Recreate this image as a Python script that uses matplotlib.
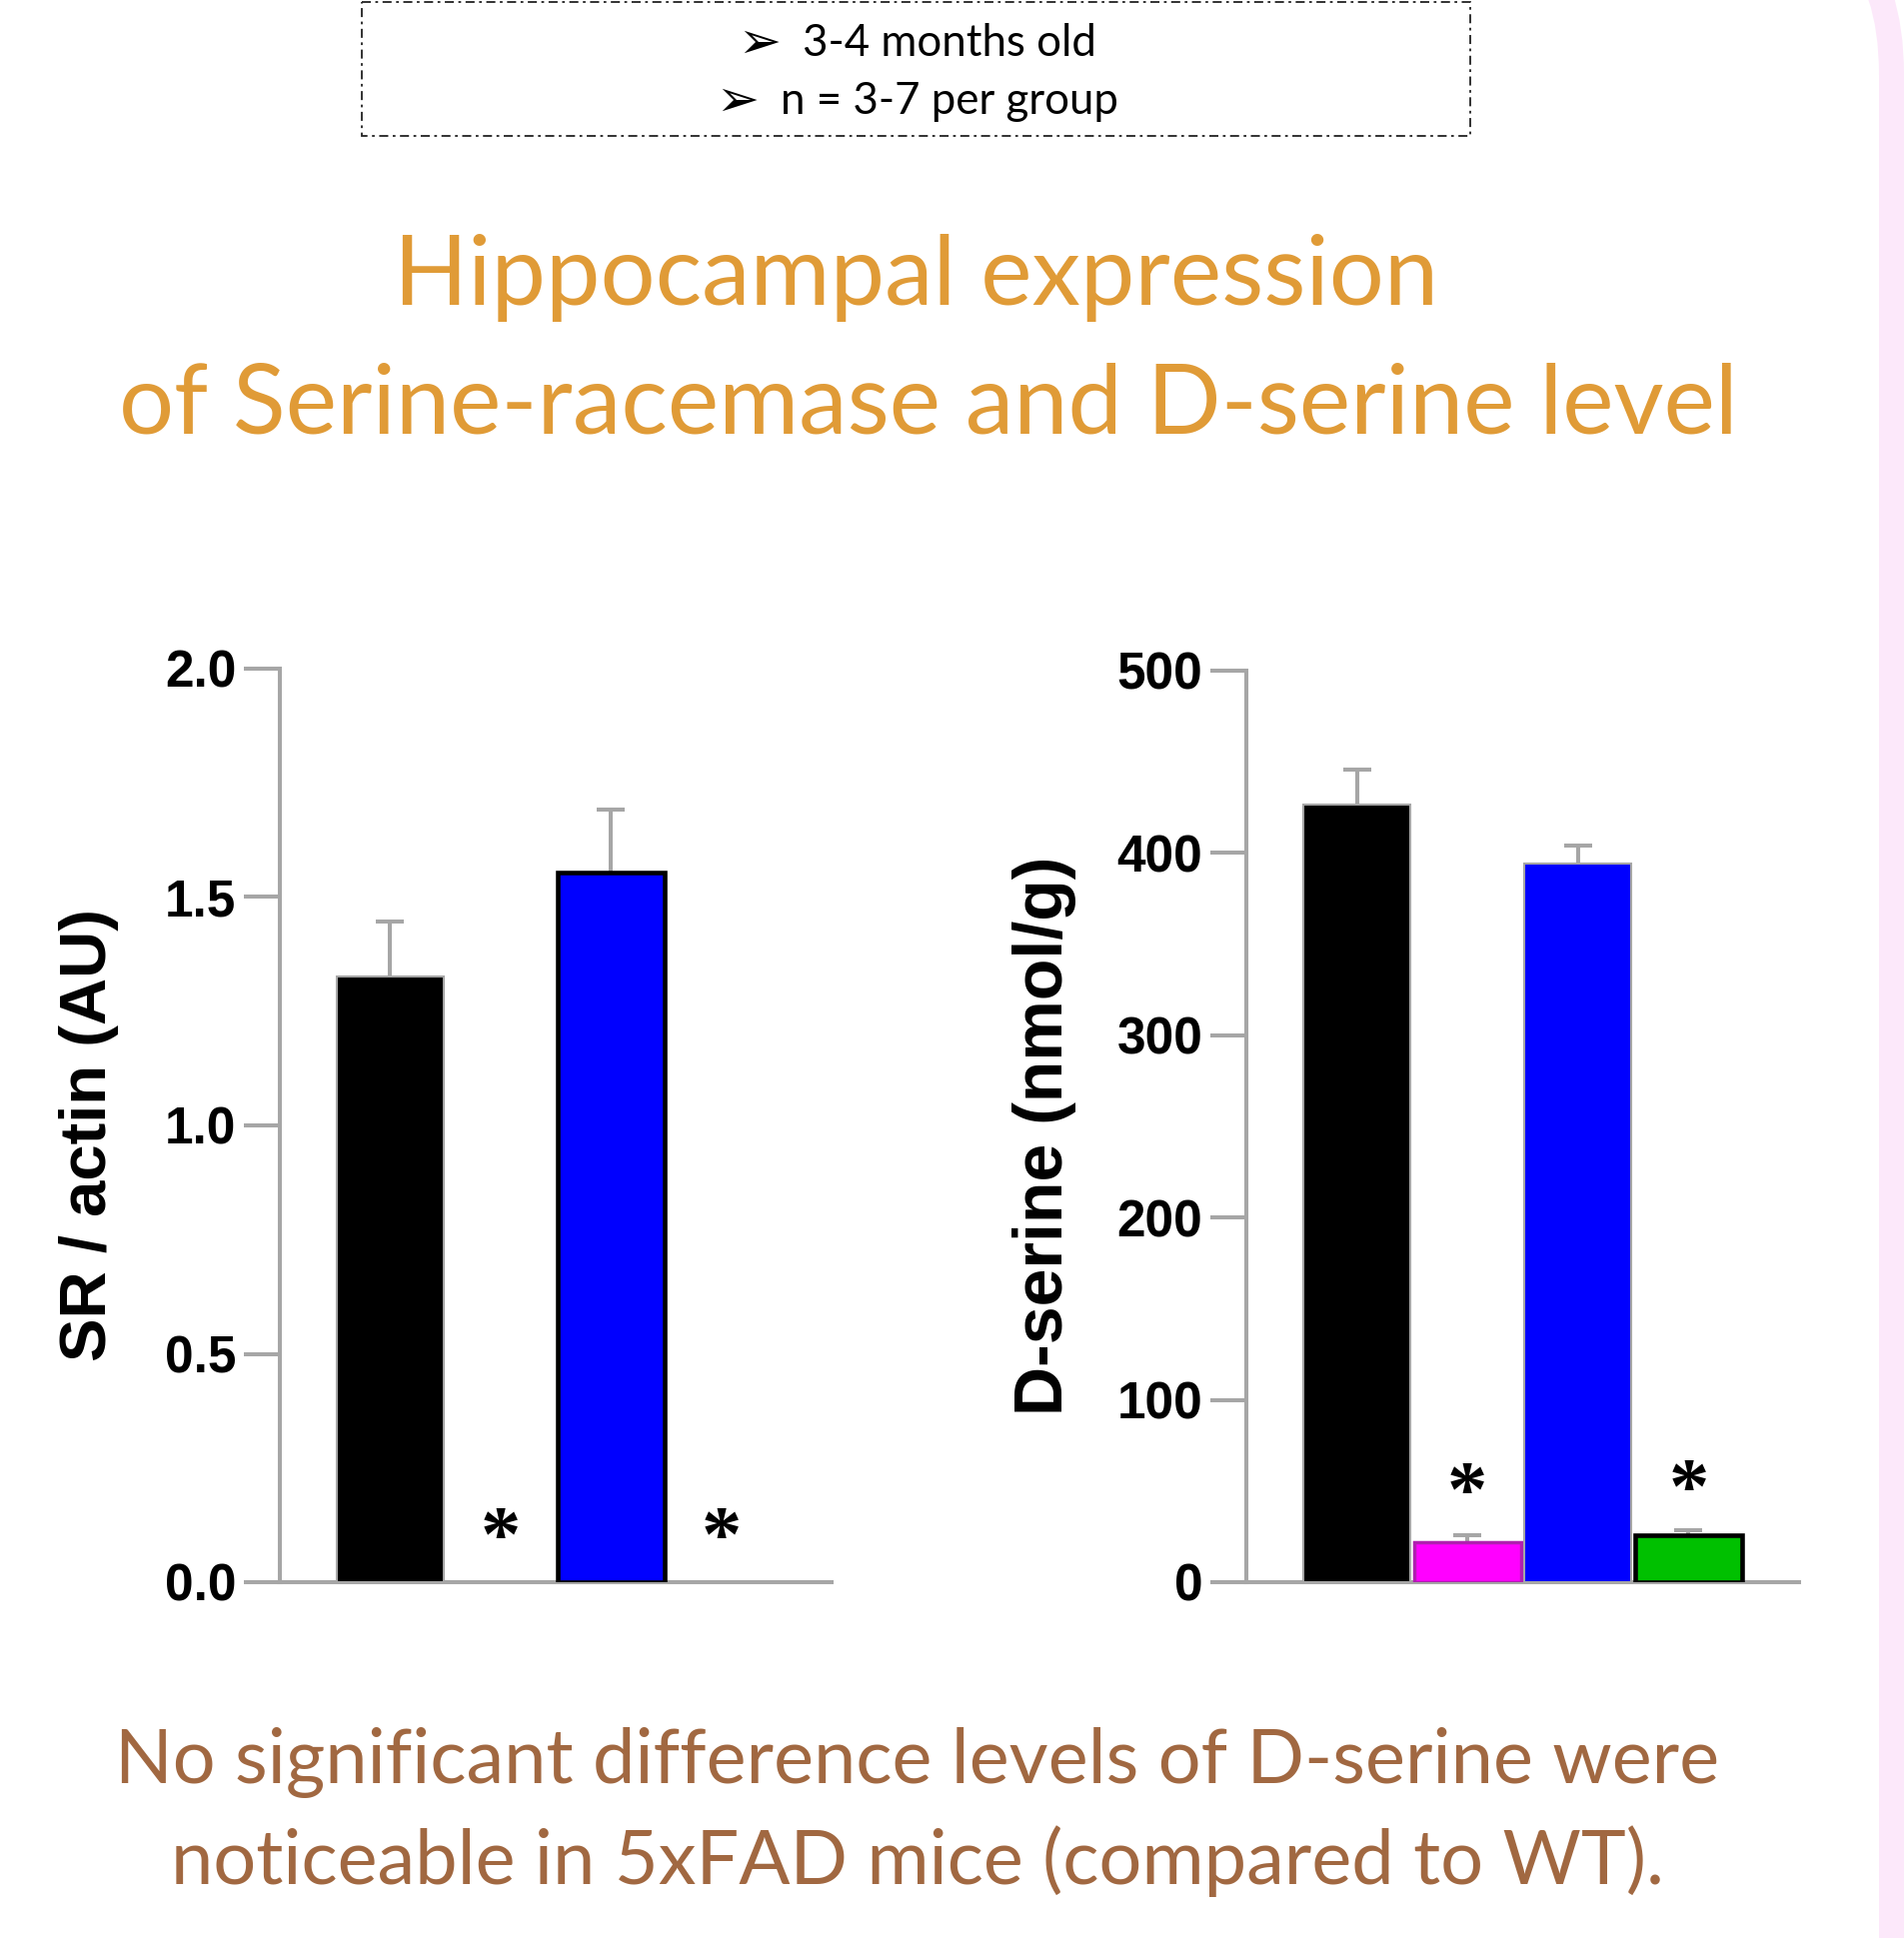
import matplotlib
matplotlib.use('Agg')
import matplotlib.pyplot as plt
from matplotlib.patches import Rectangle, PathPatch
from matplotlib.path import Path
from matplotlib.transforms import ScaledTranslation

# data
groups = ['WT', 'WT treated', '5xFAD', '5xFAD treated']
sr_vals = [1.325, 0.0, 1.553, 0.0]
sr_err = [0.122, 0.0, 0.138, 0.0]
sr_star_y = [0.133, 0.133]
dser_vals = [426.5, 22.0, 394.0, 25.5]
dser_err = [19.0, 3.5, 10.0, 3.0]
dser_star_y = [58, 60]

bar_colors = ['#000000', '#FF00FF', '#0000FF', '#00C000']
grey = '#A6A6A6'

title_lines = ['Hippocampal expression', 'of Serine-racemase and D-serine level']
note_lines = ['No significant difference levels of D-serine were',
              'noticeable in 5xFAD mice (compared to WT).']
box_lines = ['3-4 months old', 'n = 3-7 per group']

W, H = 1905, 1939
fig = plt.figure(figsize=(W / 100, H / 100), dpi=100)

# overlay in pixel coordinates for the slide decorations
bg = fig.add_axes([0, 0, 1, 1])
bg.set_xlim(0, W)
bg.set_ylim(H, 0)
bg.axis('off')

# pink border at the right with rounded corner
R = 180
cy = 74
verts = [(1892.5 - R, cy - R), (1892.5, cy - R), (1892.5, cy), (1892.5, H + 20)]
codes = [Path.MOVETO, Path.CURVE3, Path.CURVE3, Path.LINETO]
bg.add_patch(PathPatch(Path(verts, codes), fill=False, edgecolor='#FCE8FA', lw=18))

bg.add_patch(Rectangle((362, 2), 1109, 134, fill=False, edgecolor='#222222',
                       lw=1.3, linestyle=(0, (5, 2.5, 1.5, 2.5))))
for (ax_x, tx_x, base), line in zip([(760, 803, 56), (738, 781, 114)], box_lines):
    bg.text(ax_x, base + 2, '\u27a2', ha='center', va='baseline', fontsize=37,
            family='DejaVu Sans')
    bg.text(tx_x, base, line, ha='left', va='baseline', fontsize=31.5, family='Lato')

for (x, y), line in zip([(917, 305), (929, 433)], title_lines):
    bg.text(x, y, line, ha='center', va='baseline', fontsize=70,
            family='Lato', color='#E09B37')
for y, line in zip([1784, 1885], note_lines):
    bg.text(918, y, line, ha='center', va='baseline', fontsize=54.5,
            family='Lato', color='#A16841')


def style_axis(ax, ylim, ticks, fmt, ylabel, label_x, label_size):
    ax.set_xlim(-1, 4)
    ax.set_ylim(*ylim)
    for s in ['top', 'right']:
        ax.spines[s].set_visible(False)
    for s in ['left', 'bottom']:
        ax.spines[s].set_color(grey)
        ax.spines[s].set_linewidth(2.9)
    ax.set_xticks([])
    ax.set_yticks(ticks)
    ax.set_yticklabels([fmt.format(t) for t in ticks], family='Liberation Sans',
                       fontweight='bold', fontsize=37)
    ax.tick_params(axis='y', length=26, width=2.9, color=grey, pad=5.5)
    ax.set_ylabel(ylabel, family='Liberation Sans', fontweight='bold',
                  fontsize=label_size, va='center')
    ax.yaxis.set_label_coords(label_x, 0.49)
    ax.patch.set_alpha(0)


def draw_bars(ax, vals, errs, edges, widths):
    for i in range(len(groups)):
        if vals[i] <= 0:
            continue
        ax.bar(i, vals[i], width=0.97, color=bar_colors[i], edgecolor=edges[i],
               linewidth=widths[i], zorder=3)
        if errs[i] > 0:
            ax.errorbar(i, vals[i], yerr=[[0], [errs[i]]], fmt='none', ecolor=grey,
                        elinewidth=2.9, capsize=0, zorder=2)
            ax.plot(i, vals[i] + errs[i], marker='_', markersize=19.5, mew=2.9,
                    color=grey, ls='none', zorder=2)


def draw_stars(ax, ys):
    fs = 58
    # shift so the glyph centre sits on y
    tr = ax.transData + ScaledTranslation(0, -0.5 * fs / 72, fig.dpi_scale_trans)
    for i, y in zip([1, 3], ys):
        ax.text(i, y, '*', ha='center', va='baseline', fontsize=fs,
                family='Liberation Serif', fontweight='bold', transform=tr)


ax1 = fig.add_axes([280 / W, 1 - 1583 / H, 552 / W, 914 / H])
style_axis(ax1, (0, 2.0), [0, 0.5, 1.0, 1.5, 2.0], '{:.1f}', 'SR / actin (AU)', -0.346, 47)
draw_bars(ax1, sr_vals, sr_err, [grey, grey, '#000000', '#000000'], [1.5, 1.5, 3.3, 3.3])
draw_stars(ax1, sr_star_y)

ax2 = fig.add_axes([1247 / W, 1 - 1583 / H, 553 / W, 912 / H])
style_axis(ax2, (0, 500), [0, 100, 200, 300, 400, 500], '{:d}', 'D-serine (nmol/g)', -0.365, 49)
draw_bars(ax2, dser_vals, dser_err, [grey, '#B020B0', grey, '#000000'], [1.5, 2.5, 1.5, 3.3])
draw_stars(ax2, dser_star_y)

fig.savefig('out.png', dpi=100, facecolor='white')
